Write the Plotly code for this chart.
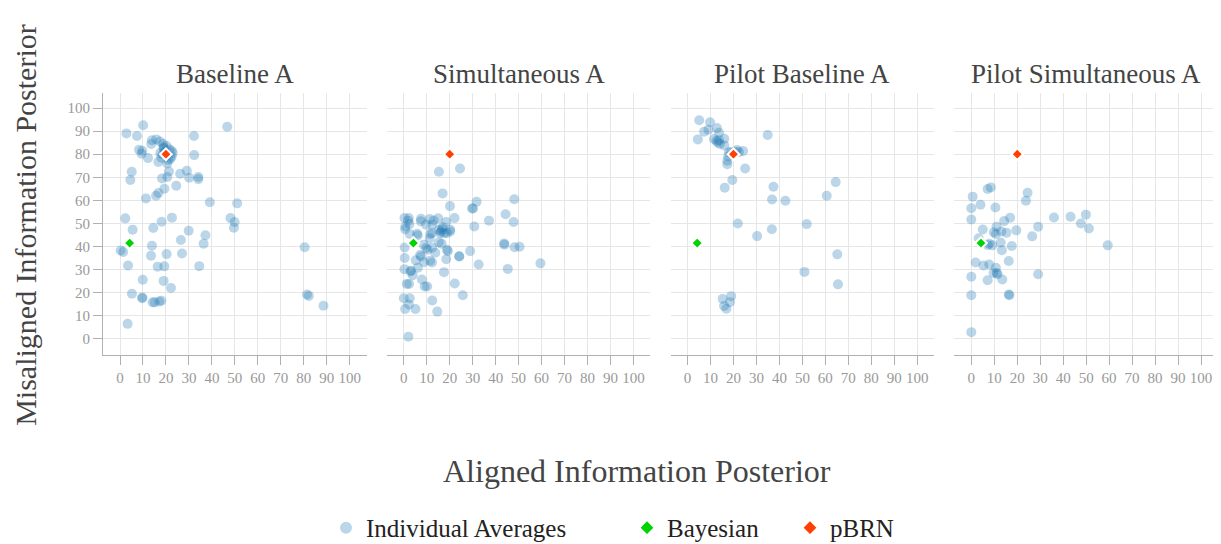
import plotly.graph_objects as go
from plotly.subplots import make_subplots

panels = ["Baseline A", "Simultaneous A", "Pilot Baseline A", "Pilot Simultaneous A"]

baseline_x = [10.1, 46.7, 2.8, 7.4, 32.2, 13.9, 15.8, 17.4, 13.6, 18.8, 8.3, 9.7, 9.4, 12.2, 32.3, 16.7, 20.6,
              17.5, 19.0, 22.5, 22.5, 20.3, 18.0, 21.0, 23.0, 19.5, 20.5, 21.5, 18.5, 22.0, 19.0,
              5.1, 4.5, 21.3, 26.2, 29.1, 30.1, 34.1, 34.1, 20.6, 18.3, 24.5, 19.3, 16.7, 15.7, 11.3, 39.1, 51.0,
              2.3, 22.6, 48.1, 49.9, 49.6, 18.1, 14.5, 5.5, 29.9, 37.2, 26.5, 36.4, 13.9, 80.4, 0.3, 1.4, 13.5,
              20.3, 27.0, 3.5, 16.4, 19.3, 34.5, 9.9, 19.0, 22.2, 5.2, 81.4, 82.2, 9.7, 9.7, 14.2, 15.1, 17.1,
              18.0, 88.6, 3.3]
baseline_y = [92.5, 91.9, 89.0, 87.9, 87.9, 86.0, 86.4, 85.5, 84.4, 84.4, 81.9, 81.5, 80.2, 78.3, 79.6, 76.6, 76.0,
              80.5, 82.5, 81.5, 79.0, 83.5, 78.5, 77.5, 80.5, 81.0, 79.5, 82.0, 80.0, 78.0, 83.0,
              72.4, 68.8, 72.5, 71.5, 72.8, 69.8, 70.1, 69.2, 70.1, 69.5, 66.3, 65.0, 63.2, 62.0, 60.8, 59.2, 58.7,
              52.2, 52.5, 52.3, 50.6, 48.1, 50.7, 48.0, 47.3, 46.8, 44.9, 42.8, 41.2, 40.3, 39.7, 38.3, 37.6, 36.0,
              36.7, 37.0, 31.8, 31.2, 31.4, 31.5, 25.6, 25.1, 22.0, 19.5, 19.2, 18.6, 17.9, 17.6, 15.8, 15.8, 16.2,
              16.5, 14.3, 6.5]

simult_x = [15.3, 24.5, 16.9, 31.7, 48.1, 29.7, 30.2, 20.1, 44.3, 37.1, 47.8, 30.7, 22.1, 0.3, 2.2, 1.9, 2.5, 0.7,
            0.6, 2.6, 7.5, 7.4, 11.3, 13.0, 15.0, 9.7, 12.4, 18.5, 17.0, 5.8, 6.1, 11.5, 12.3, 15.4, 16.2, 16.6,
            15.9, 17.6, 18.8, 20.2, 20.2, 11.3, 15.3, 16.5, 0.4, 8.7, 9.7, 10.4, 12.4, 13.7, 18.8, 19.2, 7.1, 7.5,
            0.4, 5.2, 8.8, 11.5, 12.3, 18.5, 24.1, 24.2, 28.9, 32.6, 43.7, 43.8, 48.2, 50.4, 45.3, 59.5, 0.3, 6.1,
            2.9, 3.2, 3.9, 17.5, 1.3, 2.3, 7.9, 9.1, 10.2, 22.2, 25.7, 0.0, 2.6, 2.2, 0.6, 5.1, 12.4, 14.6, 2.0]
simult_y = [72.4, 73.8, 63.0, 59.4, 60.5, 56.5, 56.5, 57.5, 54.0, 51.2, 50.6, 48.7, 52.3, 52.3, 52.3, 51.2, 49.7, 48.7,
            47.5, 45.4, 52.0, 50.9, 51.9, 51.3, 52.2, 49.4, 49.4, 50.6, 48.4, 45.5, 44.8, 45.4, 45.8, 47.3, 46.5, 47.5,
            45.8, 45.8, 45.8, 46.5, 47.3, 43.5, 41.8, 41.2, 39.6, 40.8, 39.3, 38.6, 39.5, 37.3, 38.6, 38.0, 36.3, 35.7,
            35.0, 34.0, 33.2, 33.8, 33.1, 34.5, 35.8, 35.7, 38.0, 32.2, 41.3, 40.8, 39.7, 39.9, 30.3, 32.7, 30.2, 30.8,
            29.2, 29.5, 27.6, 28.9, 23.8, 23.8, 25.7, 22.7, 22.7, 24.0, 18.9, 17.6, 17.6, 14.9, 12.9, 12.9, 16.6, 11.8, 0.9]

pilot_base_x = [5.1, 9.8, 12.8, 7.2, 9.1, 13.7, 4.5, 34.9, 11.5, 12.6, 13.7, 16.0, 13.1, 14.1, 16.0, 18.0, 17.7,
                17.3, 17.3, 21.6, 22.4, 24.2, 20.8, 19.0, 25.1, 19.5, 16.2, 37.4, 36.8, 42.6, 64.5, 60.6, 21.9, 51.9,
                36.7, 30.3, 65.2, 50.9, 65.5, 19.0, 15.3, 18.5, 15.9, 16.9]
pilot_base_y = [94.7, 93.8, 91.3, 89.7, 90.6, 89.3, 86.4, 88.3, 86.6, 85.8, 86.0, 86.7, 85.1, 84.4, 83.8, 80.8, 79.0,
                77.2, 75.6, 81.8, 80.9, 81.4, 81.0, 80.9, 73.8, 68.8, 65.5, 65.9, 60.4, 59.8, 67.9, 62.0, 50.0, 49.7,
                47.5, 44.5, 36.6, 29.0, 23.6, 18.5, 17.3, 15.9, 14.2, 13.0]

pilot_sim_x = [8.5, 7.1, 24.5, 23.8, 0.6, 4.0, 0.0, 10.5, 0.0, 16.9, 14.3, 36.0, 43.2, 49.9, 47.7, 51.2, 29.1, 11.0,
               5.0, 9.8, 10.7, 13.1, 15.3, 19.6, 26.5, 3.2, 12.8, 7.2, 9.2, 7.8, 17.6, 13.3, 59.4, 1.9, 5.3, 7.8,
               16.3, 10.7, 9.7, 11.1, 11.4, 29.1, 0.0, 7.1, 13.5, 0.0, 16.3, 16.6, 0.0]
pilot_sim_y = [65.6, 64.9, 63.3, 59.8, 61.6, 58.1, 56.6, 56.9, 51.7, 52.5, 51.0, 52.6, 52.9, 53.8, 50.0, 47.8, 48.6, 48.6,
               47.4, 46.2, 45.4, 46.5, 46.0, 47.0, 44.4, 43.6, 41.7, 40.6, 40.5, 41.2, 40.2, 38.4, 40.5, 33.1, 31.8, 32.2,
               33.7, 30.8, 28.5, 28.5, 28.0, 28.0, 26.9, 25.4, 25.7, 18.9, 19.2, 18.9, 2.9]

bayes_x, bayes_y = [4.2], [41.5]
pbrn_x, pbrn_y = [20], [80]

tick_vals = list(range(0, 101, 10))
tick_text = [str(v) for v in tick_vals]

data_x = [baseline_x, simult_x, pilot_base_x, pilot_sim_x]
data_y = [baseline_y, simult_y, pilot_base_y, pilot_sim_y]

FONT = "'Liberation Serif', 'Times New Roman', 'DejaVu Serif', serif"
TXT = "#444444"

fig = make_subplots(rows=1, cols=4, shared_yaxes=True, horizontal_spacing=0.018,
                    subplot_titles=panels)

for i in range(4):
    c = i + 1
    fig.add_trace(go.Scatter(x=data_x[i], y=data_y[i], mode="markers", name="Individual Averages",
                             legendgroup="ind", showlegend=(i == 0), legendwidth=256,
                             marker=dict(color="rgba(31,119,180,0.3)", size=10, line=dict(width=0))),
                  row=1, col=c)
    fig.add_trace(go.Scatter(x=bayes_x, y=bayes_y, mode="markers", name="Bayesian",
                             legendgroup="bay", showlegend=(i == 0), legendwidth=118,
                             marker=dict(color="#00d400", symbol="diamond", size=9,
                                         line=dict(color="white", width=2))),
                  row=1, col=c)
    fig.add_trace(go.Scatter(x=pbrn_x, y=pbrn_y, mode="markers", name="pBRN",
                             legendgroup="pb", showlegend=(i == 0),
                             marker=dict(color="#ff4000", symbol="diamond", size=9,
                                         line=dict(color="white", width=2))),
                  row=1, col=c)
    fig.update_xaxes(range=[-7.4, 107.4], tickvals=tick_vals, ticktext=tick_text,
                     showgrid=True, gridcolor="#e6e6e6", gridwidth=1, zeroline=False,
                     showline=True, linecolor="#b0b0b0", linewidth=1, automargin=False,
                     ticks="outside", ticklen=9, tickcolor="#b0b0b0",
                     tickfont=dict(family=FONT, size=15, color="#999999"), row=1, col=c)
    fig.update_yaxes(range=[-7, 106.5], tickvals=tick_vals, ticktext=tick_text, automargin=False,
                     showgrid=True, gridcolor="#e6e6e6", gridwidth=1, zeroline=False,
                     row=1, col=c)

fig.update_yaxes(showline=True, linecolor="#b0b0b0", linewidth=1, ticks="outside", ticklen=9,
                 tickcolor="#b0b0b0", tickfont=dict(family=FONT, size=15, color="#999999"),
                 row=1, col=1)

for ann in fig.layout.annotations:
    ann.font = dict(family=FONT, size=27, color=TXT)
    ann.yshift = 2

fig.add_annotation(text="Aligned Information Posterior", xref="paper", yref="paper",
                   x=0.479, y=-0.443, xanchor="center", yanchor="middle", showarrow=False,
                   font=dict(family=FONT, size=32, color=TXT))
fig.add_annotation(text="Misaligned Information Posterior", xref="paper", yref="paper",
                   x=-0.069, y=0.497, xanchor="center", yanchor="middle", showarrow=False, textangle=-90,
                   font=dict(family=FONT, size=30, color=TXT))

# page body has an 8px margin, so the figure is drawn 8px smaller and offset
fig.update_layout(
    width=1213, height=536,
    margin=dict(l=95, r=3, t=85, b=189, autoexpand=False),
    paper_bgcolor="white", plot_bgcolor="white",
    font=dict(family=FONT, color=TXT),
    legend=dict(orientation="h", x=0.2, y=-0.66, xanchor="left", yanchor="middle",
                font=dict(family=FONT, size=25, color="#222222"), itemsizing="constant"),
)

fig.write_html("out.html")
